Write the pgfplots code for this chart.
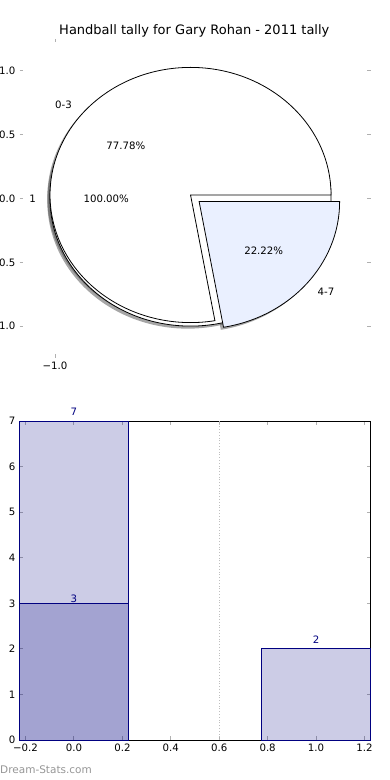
\documentclass[border=0pt]{standalone}
\usepackage{pgfplots}
\pgfplotsset{compat=1.18}
\usepackage{fontspec}
\setmainfont{DejaVu Sans}
\definecolor{navy}{RGB}{0,0,128}
\definecolor{tickgrey}{RGB}{176,176,176}
\definecolor{dotgrey}{RGB}{190,190,190}
\definecolor{wedgeblue}{RGB}{234,240,255}
\definecolor{shadowgrey}{RGB}{77,77,77}
\definecolor{markgrey}{RGB}{150,150,150}
\newcommand{\tickfont}{\fontsize{10.2bp}{12bp}\selectfont}
\pgfplotsset{
  mystyle/.style={
    scale only axis, width=351bp, height=319bp,
    tick align=inside,
    major tick length=3.5bp,
    every tick/.style={draw=tickgrey, line width=1bp},
    tick label style={font=\tickfont, inner sep=0pt},
    yticklabel style={xshift=-4bp},
    xticklabel style={yshift=-4bp},
    /pgf/number format/assume math mode=true,
  }
}
% pie data: counts per bucket
\def\va{7}
\def\vb{2}
\pgfmathsetmacro{\angA}{360*\va/(\va+\vb)}
\def\rx{140.5bp}
\def\ry{127.6bp}
\begin{document}
\begin{tikzpicture}
\useasboundingbox (0,0) rectangle (390bp,780bp);
\node[anchor=base, font=\fontsize{13bp}{15bp}\selectfont, inner sep=0pt] at (194.3bp,745bp) {Handball tally for Gary Rohan - 2011 tally};
\begin{axis}[mystyle, at={(19.5bp,422bp)}, anchor=south west,
  xmin=-1.262, xmax=1.328, ymin=-1.25, ymax=1.25,
  axis line style={draw=none},
  xtick={-1}, xticklabels={−1.0},
  ytick={-1,-0.5,0,0.5,1}, yticklabels={−1.0,−0.5,0.0,0.5,1.0},
  clip=false]
% shadows
\fill[shadowgrey, fill opacity=0.5] (axis cs:-0.02,-0.02) ++(0:{\rx} and {\ry}) arc[start angle=0, end angle=360, x radius=\rx, y radius=\ry] -- cycle;
\fill[shadowgrey, fill opacity=0.5] (axis cs:-0.02,0.0074) -- ++(0:{\rx} and {\ry}) arc[start angle=0, end angle=\angA, x radius=\rx, y radius=\ry] -- cycle;
\fill[shadowgrey, fill opacity=0.5] (axis cs:0.0435,-0.0443) -- ++(\angA:{\rx} and {\ry}) arc[start angle=\angA, end angle=360, x radius=\rx, y radius=\ry] -- cycle;
% 100% pie
\filldraw[fill=white, draw=black, line width=0.8bp] (axis cs:0,0) ++(0:{\rx} and {\ry}) arc[start angle=0, end angle=360, x radius=\rx, y radius=\ry] -- cycle;
% 0-3 wedge
\filldraw[fill=white, draw=black, line width=0.8bp] (axis cs:0,0.0274) -- ++(0:{\rx} and {\ry}) arc[start angle=0, end angle=\angA, x radius=\rx, y radius=\ry] -- cycle;
% 4-7 wedge (exploded)
\filldraw[fill=wedgeblue, draw=black, line width=0.8bp] (axis cs:0.0635,-0.0243) -- ++(\angA:{\rx} and {\ry}) arc[start angle=\angA, end angle=360, x radius=\rx, y radius=\ry] -- cycle;
% labels
\node[anchor=east, inner sep=0pt, font=\tickfont] at (axis cs:-0.874,0.735) {0-3};
\node[inner sep=0pt, font=\tickfont] at (axis cs:-0.477,0.413) {77.78\%};
\node[anchor=east, inner sep=0pt, font=\tickfont] at (axis cs:-1.1406,0) {1};
\node[inner sep=0pt, font=\tickfont] at (axis cs:-0.622,0) {100.00\%};
\node[inner sep=0pt, font=\tickfont] at (axis cs:0.540,-0.410) {22.22\%};
\node[anchor=west, inner sep=0pt, font=\tickfont] at (axis cs:0.937,-0.732) {4-7};
\end{axis}
\begin{axis}[mystyle, at={(19.5bp,40bp)}, anchor=south west,
  xmin=-0.225, xmax=1.225, ymin=0, ymax=7,
  xtick={-0.2,0,0.2,0.4,0.6,0.8,1,1.2}, xticklabels={−0.2,0.0,0.2,0.4,0.6,0.8,1.0,1.2},
  ytick={0,1,2,3,4,5,6,7}, yticklabels={0,1,2,3,4,5,6,7},
  axis line style={black, line width=1bp},
  clip=false]
\addplot[dotgrey, dotted, line width=0.8bp] coordinates {(0.6,0) (0.6,7)};
\addplot[ybar, bar width=0.45, bar shift=0pt, fill=navy, fill opacity=0.2, draw=navy, line width=0.8bp,
  nodes near coords, nodes near coords style={text=navy, font=\tickfont, anchor=south, inner sep=0pt, yshift=5bp, fill opacity=1, text opacity=1}] coordinates {(0,7) (1,2)};
\addplot[ybar, bar width=0.45, bar shift=0pt, fill=navy, fill opacity=0.2, draw=navy, line width=0.8bp,
  nodes near coords, nodes near coords style={text=navy, font=\tickfont, anchor=south, inner sep=0pt, yshift=0bp, fill opacity=1, text opacity=1}] coordinates {(0,3)};
\end{axis}
\node[anchor=base west, inner sep=0pt, text=markgrey, font=\fontsize{10.5bp}{12bp}\selectfont] at (0,7bp) {Dream-Stats.com};
\end{tikzpicture}
\end{document}
